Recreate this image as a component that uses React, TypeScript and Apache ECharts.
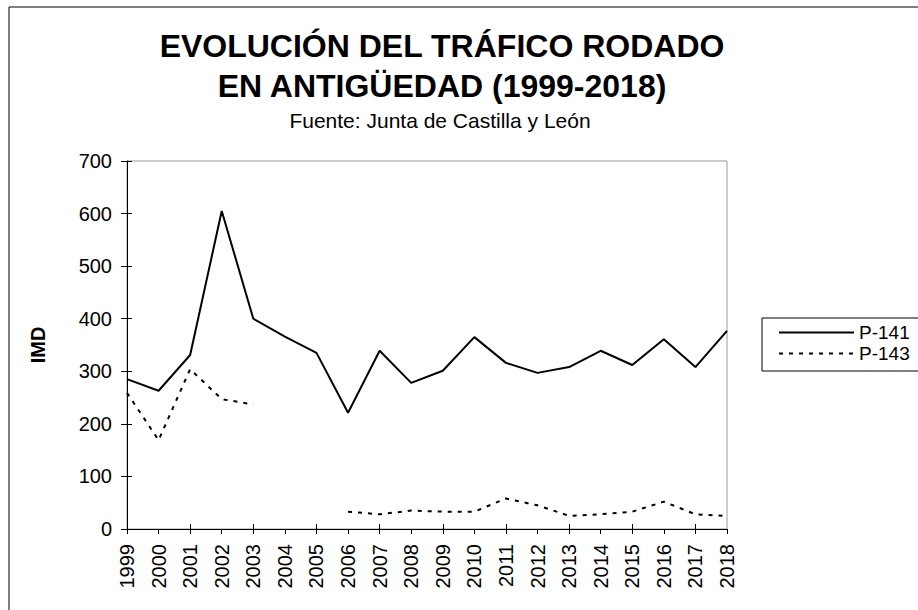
import React, { useEffect, useRef } from "react";
import * as echarts from "echarts";

const years = ["1999","2000","2001","2002","2003","2004","2005","2006","2007","2008","2009","2010","2011","2012","2013","2014","2015","2016","2017","2018"];
const p141 = [285, 263, 331, 605, 400, 366, 335, 221, 339, 278, 301, 365, 316, 297, 308, 339, 312, 361, 308, 377];
const p143 = [259, 169, 304, 247, 237, null, null, 33, 28, 35, 33, 33, 58, 45, 25, 28, 33, 52, 28, 25];
const yMin = 0;
const yMax = 700;
const yStep = 100;

const FONT = "Liberation Sans, Arial, sans-serif";

export default function App() {
  const ref = useRef<HTMLDivElement>(null);
  useEffect(() => {
    if (!ref.current) return;
    const chart = echarts.init(ref.current, null, { renderer: "svg" });
    const grid = { left: 127, right: 191, top: 161, bottom: 81 };
    chart.setOption({
      animation: false,
      backgroundColor: "#fff",
      textStyle: { fontFamily: FONT, color: "#000" },
      title: [
        {
          text: "EVOLUCIÓN DEL TRÁFICO RODADO\nEN ANTIGÜEDAD (1999-2018)",
          left: 437,
          top: 21,
          textAlign: "center",
          textStyle: { fontFamily: FONT, fontSize: 32, fontWeight: "bold", lineHeight: 40, color: "#000" },
        },
        {
          text: "Fuente: Junta de Castilla y León",
          left: 435,
          top: 105,
          textAlign: "center",
          textStyle: { fontFamily: FONT, fontSize: 21, fontWeight: "normal", color: "#000" },
        },
      ],
      legend: {
        orient: "vertical",
        left: 762,
        top: 318,
        padding: [5, 9, 8, 16],
        itemWidth: 75,
        itemHeight: 14,
        itemGap: 2,
        borderColor: "#000",
        borderWidth: 1,
        itemStyle: { color: "transparent", borderWidth: 0, opacity: 0 },
        textStyle: { fontFamily: FONT, fontSize: 19, color: "#000" },
        data: ["P-141", "P-143"],
      },
      grid: { ...grid, show: true, borderColor: "#999", borderWidth: 1, backgroundColor: "transparent" },
      xAxis: [
        {
          type: "category",
          data: years,
          boundaryGap: false,
          axisLine: { lineStyle: { color: "#000", width: 1 } },
          axisTick: { show: true, inside: false, length: 5, lineStyle: { color: "#000" }, alignWithLabel: true },
          axisLabel: { rotate: 90, margin: 15, fontSize: 20, color: "#000", fontFamily: FONT, interval: 0 },
          splitLine: { show: false },
        },
        {
          type: "category",
          data: years,
          boundaryGap: false,
          position: "bottom",
          axisLine: { show: false },
          axisTick: { show: true, inside: true, length: 5, lineStyle: { color: "#000" } },
          axisLabel: { show: false },
          splitLine: { show: false },
        },
      ],
      yAxis: [
        {
          type: "value",
          min: yMin,
          max: yMax,
          interval: yStep,
          axisLine: { show: true, lineStyle: { color: "#000", width: 1 } },
          axisTick: { show: true, inside: false, length: 6, lineStyle: { color: "#000" } },
          axisLabel: { margin: 15, fontSize: 20, color: "#000", fontFamily: FONT },
          splitLine: { show: false },
        },
        {
          type: "value",
          min: yMin,
          max: yMax,
          interval: yStep,
          position: "left",
          axisLine: { show: false },
          axisTick: { show: true, inside: true, length: 5, lineStyle: { color: "#000" } },
          axisLabel: { show: false },
          splitLine: { show: false },
        },
      ],
      graphic: [
        {
          type: "rect",
          shape: { x: 9, y: 7, width: 1000, height: 700 },
          style: { fill: "none", stroke: "#000", lineWidth: 1 },
          silent: true,
          z: 100,
        },
        {
          type: "text",
          x: 38,
          y: 345,
          rotation: Math.PI / 2,
          style: {
            text: "IMD",
            fontFamily: FONT,
            fontSize: 20,
            fontWeight: "bold",
            fill: "#000",
            textAlign: "center",
            textVerticalAlign: "middle",
          },
        },
      ],
      series: [
        {
          name: "P-141",
          type: "line",
          data: p141,
          symbol: "none",
          lineStyle: { color: "#000", width: 2, type: "solid" },
          itemStyle: { color: "#000" },
        },
        {
          name: "P-143",
          type: "line",
          data: p143,
          symbol: "none",
          connectNulls: false,
          lineStyle: { color: "#000", width: 2, type: [4, 6] },
          itemStyle: { color: "#000" },
        },
      ],
    });
    return () => chart.dispose();
  }, []);
  return <div ref={ref} style={{ position: "absolute", left: 0, top: 0, width: 918, height: 610 }} />;
}
